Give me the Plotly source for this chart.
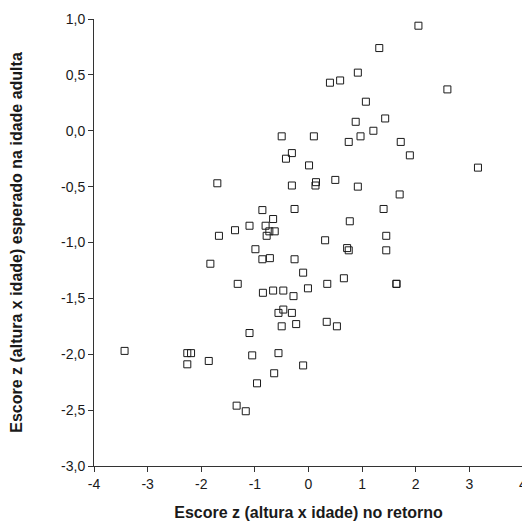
import plotly.graph_objects as go

x_retorno = [2.05, 1.32, 0.92, 0.40, 0.59, 2.59, 1.07, 0.88, 1.43, 1.21,
             -0.50, 0.10, 0.97, 0.75, 1.72, 1.89, 3.16, -0.31, -0.42, 0.01,
             -0.31, 0.14, 0.13, 0.50, 0.92, 1.70, -0.26, 1.40, 0.77, -0.66,
             0.31, 1.45, 0.72, 0.75, 1.45, -0.72, -0.26, 0.66, 0.35, 1.64,
             1.64, -0.10, -0.01, -0.85, -0.66, -0.47, -0.28, -0.56, -0.47, -0.31,
             -0.50, -0.23, 0.34, 0.53, -0.56, -0.10, -0.64, -1.70, -0.86, -1.10,
             -0.80, -1.37, -1.67, -0.73, -0.63, -0.78, -0.99, -0.86, -1.83, -1.32,
             -3.43, -2.26, -2.19, -2.26, -1.86, -1.10, -1.05, -0.96, -1.34, -1.17]
y_adulta = [0.94, 0.74, 0.52, 0.43, 0.45, 0.37, 0.26, 0.08, 0.11, 0.00,
            -0.05, -0.05, -0.05, -0.10, -0.10, -0.22, -0.33, -0.20, -0.25, -0.31,
            -0.49, -0.46, -0.49, -0.44, -0.50, -0.57, -0.70, -0.70, -0.81, -0.79,
            -0.98, -0.94, -1.05, -1.07, -1.07, -1.14, -1.15, -1.32, -1.37, -1.37,
            -1.37, -1.27, -1.41, -1.45, -1.43, -1.43, -1.48, -1.63, -1.60, -1.63,
            -1.75, -1.73, -1.71, -1.75, -1.99, -2.10, -2.17, -0.47, -0.71, -0.85,
            -0.85, -0.89, -0.94, -0.90, -0.90, -0.94, -1.06, -1.15, -1.19, -1.37,
            -1.97, -1.99, -1.99, -2.09, -2.06, -1.81, -2.01, -2.26, -2.46, -2.51]

x_ticks = [-4, -3, -2, -1, 0, 1, 2, 3, 4]
x_tick_labels = ["-4", "-3", "-2", "-1", "0", "1", "2", "3", "4"]
y_ticks = [1.0, 0.5, 0.0, -0.5, -1.0, -1.5, -2.0, -2.5, -3.0]
y_tick_labels = ["1,0", "0,5", "0,0", "-0,5", "-1,0", "-1,5", "-2,0", "-2,5", "-3,0"]

fig = go.Figure(go.Scatter(
    x=x_retorno, y=y_adulta, mode="markers",
    marker=dict(symbol="square-open", size=7, color="#1a1a1a",
                line=dict(width=1, color="#1a1a1a")),
    showlegend=False, hoverinfo="x+y"))

axis_font = dict(family="Liberation Sans, Arial, sans-serif", size=14, color="#1a1a1a")
title_font = dict(family="Liberation Sans, Arial, sans-serif", size=16, color="#1a1a1a")

fig.update_layout(
    width=522, height=514,
    margin=dict(l=86, r=3, t=8, b=55),
    paper_bgcolor="white", plot_bgcolor="white",
    font=axis_font,
    xaxis=dict(
        range=[-4, 4], tickvals=x_ticks, ticktext=x_tick_labels,
        showgrid=False, zeroline=False,
        showline=True, linecolor="#333333", linewidth=1,
        ticks="outside", ticklen=5, tickcolor="#333333",
        tickfont=axis_font, ticklabeloverflow="allow",
        title=dict(text="<b>Escore z (altura x idade) no retorno</b>",
                   font=title_font, standoff=16),
    ),
    yaxis=dict(
        range=[-3, 1], tickvals=y_ticks, ticktext=y_tick_labels,
        showgrid=False, zeroline=False,
        showline=True, linecolor="#333333", linewidth=1,
        ticks="outside", ticklen=5, tickcolor="#333333",
        tickfont=axis_font, ticklabeloverflow="allow",
        title=dict(text="<b>Escore z (altura x idade) esperado na idade adulta</b>",
                   font=title_font, standoff=38),
    ),
)

fig.write_html("out.html")
